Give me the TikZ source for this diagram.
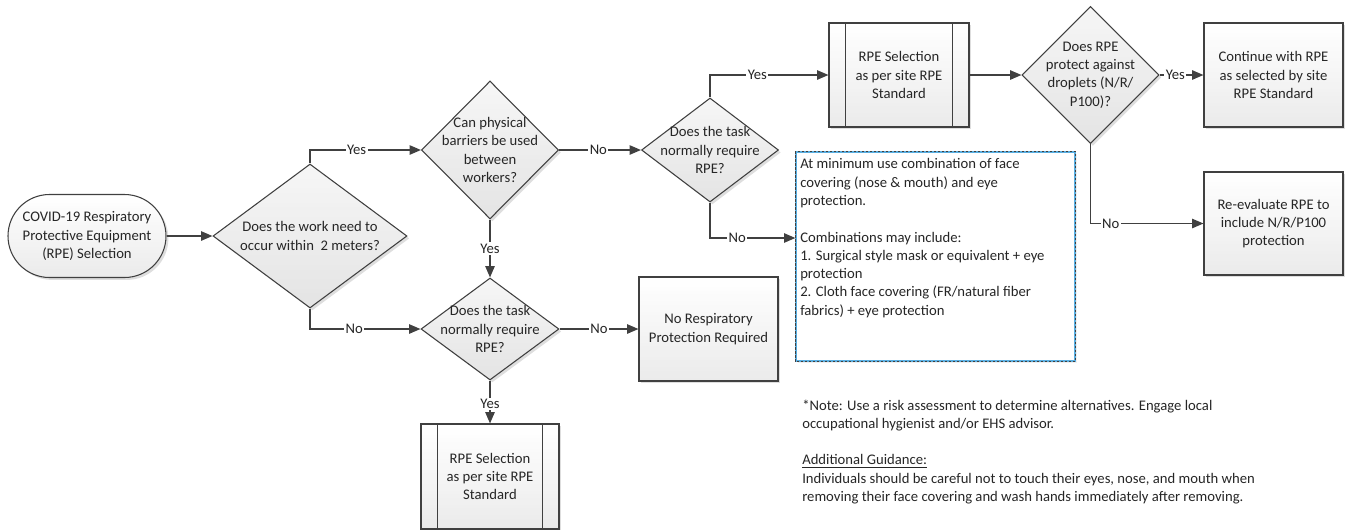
\documentclass[tikz,border=0pt]{standalone}
\usepackage{fontspec}
\setmainfont{Carlito}
\usetikzlibrary{shapes.geometric,shapes.misc,arrows.meta,calc}
\definecolor{ln}{HTML}{404040}
\definecolor{tx}{HTML}{262626}
\definecolor{dashblue}{HTML}{5AAEE0}
\definecolor{boxtop}{HTML}{FFFFFF}
\definecolor{boxbot}{HTML}{EBEBEB}
\definecolor{diatop}{HTML}{F6F6F6}
\definecolor{diabot}{HTML}{E4E4E4}
\definecolor{shd}{HTML}{DEDEDE}
\tikzset{
  fnt/.style={font=\fontsize{11}{13.7}\selectfont, text=tx},
  shdw/.style={preaction={draw=none, fill=shd, transform canvas={shift={(1.8pt,-1.8pt)}}}},
  grad/.style 2 args={fill=#2, path picture={
     \foreach \i in {0,...,29}{
       \pgfmathsetmacro\pc{100*\i/29}
       \pgfmathsetmacro\fa{\i/30}
       \pgfmathsetmacro\fb{(\i+1.3)/30}
       \fill[#1!\pc!#2] ($(path picture bounding box.south west)!\fa!(path picture bounding box.north west)$)
         rectangle ($(path picture bounding box.south east)!\fb!(path picture bounding box.north east)$);
     }}},
  base/.style={shdw, draw=ln, line width=0.8pt, inner sep=0pt, grad={boxtop}{boxbot}},
  dia/.style={shdw, draw=ln, line width=0.8pt, inner sep=0pt, diamond, grad={diatop}{diabot}},
  boxs/.style={base, rectangle},
  term/.style={base, rounded rectangle},
  txt/.style={fnt, align=center, inner sep=0pt},
  conn/.style={draw=ln, line width=1.1pt, -{Triangle[length=8.5pt,width=7pt]}},
  lbl/.style={fnt, fill=white, inner sep=1pt},
}
\begin{document}
\begin{tikzpicture}[x=0.75pt,y=-0.75pt]
\useasboundingbox (0,0) rectangle (1345,529);
% shapes
\node[term, minimum width=158*0.75pt, minimum height=83*0.75pt] (t0) at (87,236) {};
\node[txt] (t0t) at (t0) {COVID-19 Respiratory\\Protective Equipment\\(RPE) Selection};

\node[dia, minimum width=194*0.75pt, minimum height=144*0.75pt] (d1) at (310,236) {};
\node[txt] (d1t) at (d1) {Does the work need to\\occur within\ \ 2 meters?};

\node[dia, minimum width=137*0.75pt, minimum height=138*0.75pt] (d2) at (490,150) {};
\node[txt] (d2t) at (d2) {Can physical\\barriers be used\\between\\workers?};

\node[dia, minimum width=138*0.75pt, minimum height=102*0.75pt] (d3) at (490,329) {};
\node[txt] (d3t) at (d3) {Does the task\\normally require\\RPE?};

\node[boxs, minimum width=139*0.75pt, minimum height=104*0.75pt] (nr) at (708.5,329) {};
\node[txt] (nrt) at (nr) {No Respiratory\\Protection Required};

\node[boxs, minimum width=138*0.75pt, minimum height=105*0.75pt] (p2) at (490,476.5) {};
\node[txt] (p2t) at (p2) {RPE Selection\\as per site RPE\\Standard};

\node[dia, minimum width=137*0.75pt, minimum height=104*0.75pt] (d4) at (710,150) {};
\node[txt] (d4t) at (d4) {Does the task\\normally require\\RPE?};

\node[boxs, minimum width=140*0.75pt, minimum height=104*0.75pt] (p1) at (899,75) {};
\node[txt] (p1t) at (p1) {RPE Selection\\as per site RPE\\Standard};

\node[dia, minimum width=137*0.75pt, minimum height=137*0.75pt] (d5) at (1090.5,75) {};
\node[txt] (d5t) at (d5) {Does RPE\\protect against\\droplets (N/R/\\P100)?};

\node[boxs, minimum width=139*0.75pt, minimum height=104*0.75pt] (c1) at (1273.5,75) {};
\node[txt] (c1t) at (c1) {Continue with RPE\\as selected by site\\RPE Standard};

\node[boxs, minimum width=139*0.75pt, minimum height=103*0.75pt] (r1) at (1273.5,223.5) {};
\node[txt] (r1t) at (r1) {Re-evaluate RPE to\\include N/R/P100\\protection};

% predefined process inner lines
\foreach \n in {p1,p2}{
  \draw[draw=ln, line width=0.8pt] ([xshift=17*0.75pt]\n.north west) -- ([xshift=17*0.75pt]\n.south west);
  \draw[draw=ln, line width=0.8pt] ([xshift=-17*0.75pt]\n.north east) -- ([xshift=-17*0.75pt]\n.south east);
}

% dashed text box
\node[preaction={draw=none, fill=black!6, transform canvas={shift={(1.8pt,-1.8pt)}}},
      draw=dashblue, line width=0.9pt, fill=white, minimum width=279*0.75pt, minimum height=209*0.75pt] (tb) at (935.5,256.5) {};
\draw[draw=ln, line width=0.6pt, dash pattern=on 1.6pt off 1.4pt] (tb.north west) rectangle (tb.south east);
\node[fnt, align=left, inner sep=0pt, anchor=north west] (tbt) at (800,158.5) {At minimum use combination of face\\covering (nose \& mouth) and eye\\protection.\\[13.7pt]Combinations may include:\\1. Surgical style mask or equivalent + eye\\protection\\2. Cloth face covering (FR/natural fiber\\fabrics) + eye protection};
\coordinate (tbin) at (tb.west |- 0,238);

% note
\node[fnt, align=left, inner sep=0pt, anchor=north west] (note) at (802,399.5) {*Note: Use a risk assessment to determine alternatives. Engage local\\occupational hygienist and/or EHS advisor.\\[13.7pt]\underline{Additional Guidance:}\\Individuals should be careful not to touch their eyes, nose, and mouth when\\removing their face covering and wash hands immediately after removing.};

% connectors
\draw[conn] (t0.east) -- (d1.west);
\draw[conn] (d1.north) |- node[lbl, pos=0.71]{Yes} (d2.west);
\draw[conn] (d1.south) |- node[lbl, pos=0.70]{No} (d3.west);
\draw[conn] (d2.east) -- node[lbl, pos=0.48]{No} (d4.west);
\draw[conn] (d2.south) -- node[lbl, pos=0.5]{Yes} (d3.north);
\draw[conn] (d3.east) -- node[lbl, pos=0.5]{No} (nr.west);
\draw[conn] (d3.south) -- node[lbl, pos=0.55]{Yes} (p2.north);
\draw[conn] (d4.north) |- node[lbl, pos=0.70]{Yes} (p1.west);
\draw[conn] (d4.south) |- node[lbl, pos=0.66]{No} (tbin);
\draw[conn] (p1.east) -- (d5.west);
\draw[conn] (d5.east) -- node[lbl, pos=0.36]{Yes} (c1.west);
\draw[conn] (d5.south) |- node[lbl, pos=0.59]{No} (r1.west);
\end{tikzpicture}
\end{document}
